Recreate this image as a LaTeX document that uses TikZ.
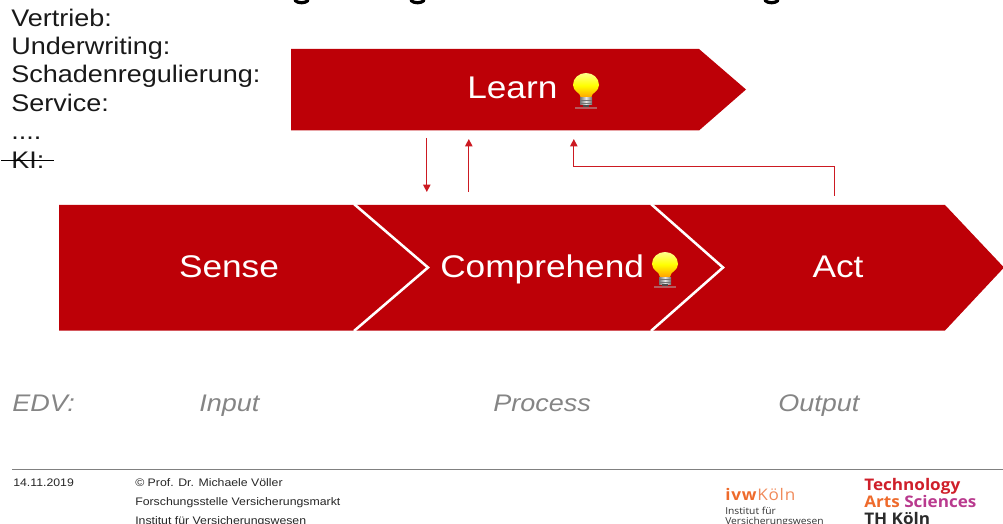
\documentclass[tikz,border=0pt]{standalone}
\usepackage{fontspec}
\setmainfont[FakeStretch=1.125]{Liberation Sans}
\newfontfamily\logofont[FakeStretch=1.07]{Open Sans}
\definecolor{thred}{HTML}{BD0007}
\definecolor{thline}{HTML}{CC1A22}
\definecolor{footgrey}{HTML}{808080}
\definecolor{edvgrey}{HTML}{858585}
\definecolor{ivworange}{HTML}{EE6A2B}
\definecolor{ivwlight}{HTML}{F08A5A}
\definecolor{thmagenta}{HTML}{B93A8E}
\definecolor{thdark}{HTML}{2B2B2B}
\definecolor{techred}{HTML}{CF1F2A}
\usetikzlibrary{arrows.meta}
\tikzset{
  x=0.75pt,y=-0.75pt,
  arrowshape/.style={fill=thred,draw=none},
  divider/.style={draw=white,line width=1.9pt,line join=miter},
  bigword/.style={text=white,font=\fontsize{23.5}{26}\selectfont,anchor=base,inner sep=0pt},
  bodyword/.style={font=\fontsize{18}{20}\selectfont,anchor=base west,inner sep=0pt,text=black!90},
  edvword/.style={font=\fontsize{18}{20}\selectfont\itshape,anchor=base west,inner sep=0pt,text=edvgrey},
  footword/.style={font=\fontsize{8.2}{10}\selectfont,anchor=base west,inner sep=0pt,text=black!85},
  flow/.style={draw=thline,line width=0.9pt,-{Triangle[length=5.5pt,width=5.5pt]}},
  logoA/.style={font=\logofont\fontsize{12}{13}\selectfont\addfontfeature{LetterSpace=5},anchor=base west,inner sep=0pt},
  logoB/.style={font=\logofont\fontsize{7.2}{9}\selectfont,anchor=base west,inner sep=0pt,text=black!80},
  logoC/.style={font=\logofont\bfseries\fontsize{12}{14}\selectfont,anchor=base west,inner sep=0pt},
  bulb/.pic={
    \shade[top color=yellow!45!white,bottom color=orange!75!yellow,middle color=yellow]
      (-5,12) .. controls (-5.5,6) and (-13,6) .. (-13,-1)
      .. controls (-13,-8) and (-7,-13) .. (0,-13)
      .. controls (7,-13) and (13,-8) .. (13,-1)
      .. controls (13,6) and (5.5,6) .. (5,12) -- cycle;
    \shade[left color=black!55,right color=black!55,middle color=white!90!black]
      (-6,12) rectangle (6,19);
    \draw[black!55,line width=0.4pt] (-6,14.5) -- (6,14.5) (-6,17) -- (6,17);
    \fill[black!70] (-3,19) rectangle (3,21);
    \fill[black!30,opacity=.5] (-11,21.4) rectangle (11,22.6);
  }
}
\begin{document}
\begin{tikzpicture}
\useasboundingbox (0,0) rectangle (1003,524);
\clip (0,0) rectangle (1003,524);

% clipped title: only the descenders remain visible
\draw[black,line width=2.4pt,line cap=round] (295,0.5) .. controls (298,3.5) and (305,3.5) .. (308,0.5);
\draw[black,line width=2.4pt,line cap=round] (411,0.5) .. controls (414,3.5) and (421,3.5) .. (424,0.5);
\draw[black,line width=2.4pt,line cap=round] (765,0.5) .. controls (768,3.5) and (775,3.5) .. (778,0.5);

% left list
\node[bodyword] (vertrieb) at (11,27) {Vertrieb:};
\node[bodyword] (uw) at (11,55) {Underwriting:};
\node[bodyword] (schaden) at (11,83) {Schadenregulierung:};
\node[bodyword] (service) at (11,111.5) {Service:};
\node[bodyword] (dots) at (11,140) {....};
\begin{scope}
  \clip (0,145) rectangle (60,168);
  \node[bodyword] (ki) at (11,169) {KI:};
\end{scope}
\draw[black,line width=1.1pt] (1,160.5) -- (54,160.5);

% Learn block
\fill[arrowshape] (291,49) -- (699,49) -- (746,89.5) -- (699,130.5) -- (291,130.5) -- cycle;
\node[bigword,anchor=base west] (learn) at (467,99) {Learn};
\pic at (586,86) {bulb};

% Main chain
\fill[arrowshape] (59,205) -- (945,205) -- (1004,267.5) -- (945,330.5) -- (59,330.5) -- cycle;
\draw[divider] (354,204) -- (428,267.5) -- (354,331);
\draw[divider] (651,204) -- (723,267.5) -- (651,331);
\node[bigword] (sense) at (229,277) {Sense};
\node[bigword,anchor=base west] (comprehend) at (440,277) {Comprehend};
\pic at (665,265) {bulb};
\node[bigword] (act) at (838,277) {Act};

% connectors
\coordinate (dstart) at (426.8,138);
\coordinate (dend) at (426.8,192);
\coordinate (ustart) at (468.8,192);
\coordinate (uend) at (468.8,139);
\coordinate (fbstart) at (834.8,196);
\coordinate (fbend) at (573.8,139);
\coordinate (fbknee) at (700,166.8);
\draw[flow] (dstart) -- (dend);
\draw[flow] (ustart) -- (uend);
\draw[flow] (fbstart) |- (fbknee) -| (fbend);

% EDV row
\node[edvword] (edv) at (12,411) {EDV:};
\node[edvword] (input) at (199,411) {Input};
\node[edvword] (process) at (493,411) {Process};
\node[edvword] (output) at (778,411) {Output};

% Footer
\coordinate (fl) at (12,469.5);
\coordinate (fr) at (1003,469.5);
\draw[footgrey,line width=0.75pt] (fl) -- (fr);
\node[footword] (date) at (13,486) {14.11.2019};
\node[footword] (prof) at (135,486) {© Prof. Dr. Michaele Völler};
\node[footword] (fs) at (135,505) {Forschungsstelle Versicherungsmarkt};
\node[footword] (ifv) at (135,524) {Institut für Versicherungswesen};

% Logos
\node[logoA] (ivw) at (725,500) {\textcolor{ivworange}{\textbf{ivw}}\textcolor{ivwlight}{K\"oln}};
\node[logoB] (inst) at (725,514) {Institut für};
\node[logoB] (vers) at (725,524) {Versicherungswesen};
\node[logoC,text=techred] (tech) at (864,490) {Technology};
\node[logoC] (arts) at (864,507) {\textcolor{ivworange}{Arts} \textcolor{thmagenta}{Sciences}};
\node[logoC,text=thdark] (thk) at (864,524) {TH Köln};
\end{tikzpicture}
\end{document}
